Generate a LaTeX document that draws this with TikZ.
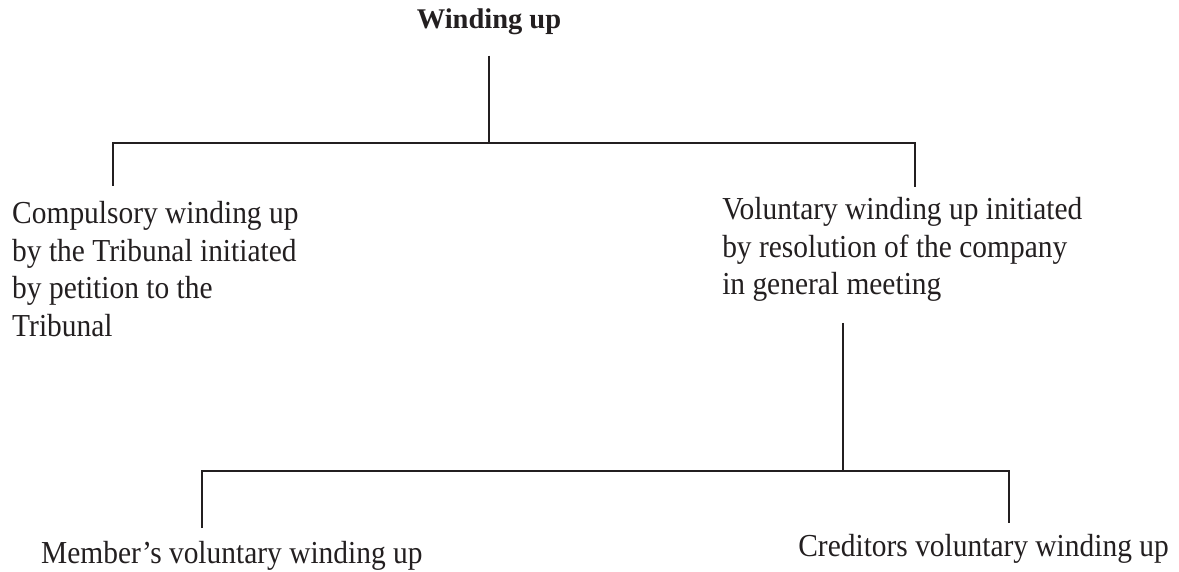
\documentclass[tikz,border=0pt]{standalone}
\usepackage{fontspec}
\setmainfont{Liberation Serif}
\newfontfamily\narrowserif[FakeStretch=0.92]{Liberation Serif}
\usepackage{xcolor}
\definecolor{ink}{RGB}{35,31,32}
\newcommand{\bodyfont}{\narrowserif\fontsize{32}{38}\selectfont}

\begin{document}
\begin{tikzpicture}[x=1pt,y=-1pt,line width=2.5pt,draw=ink,text=ink]
  \tikzset{blk/.style={anchor=base west,inner sep=0pt,align=left,font=\bodyfont}}
  \useasboundingbox (0,0) rectangle (1179,572);
  % heading
  \node[anchor=base,inner sep=0pt,font=\bfseries\fontsize{28.5}{34}\selectfont] (head) at (489,29) {Winding up};
  % first split
  \node[blk] (comp) at (11,337)
    {Compulsory winding up\\by the Tribunal initiated\\by petition to the\\Tribunal};
  \node[blk] (vol) at (721,295)
    {Voluntary winding up initiated\\by resolution of the company\\in general meeting};
  \coordinate (j1) at (489,143);
  \coordinate (jl) at (113,186);
  \coordinate (jr) at (915,143);
  \coordinate (jrend) at (915,187);
  \draw ([yshift=-19pt]head.south) -- (head.south |- j1);
  \draw (jl) |- (jr) -- (jrend);
  % second split
  \node[anchor=base west,inner sep=0pt,font=\bodyfont] (mem) at (40,563) {Member’s voluntary winding up};
  \node[anchor=base east,inner sep=0pt,font=\bodyfont] (cred) at (1170,556) {Creditors voluntary winding up};
  \coordinate (v0) at (843,323);
  \coordinate (v1) at (843,471);
  \coordinate (ml) at (202,528);
  \coordinate (cr) at (1009,471);
  \coordinate (crend) at (1009,523);
  \draw (v0) -- (v1);
  \draw (ml) |- (cr) -- (crend);
\end{tikzpicture}
\end{document}
